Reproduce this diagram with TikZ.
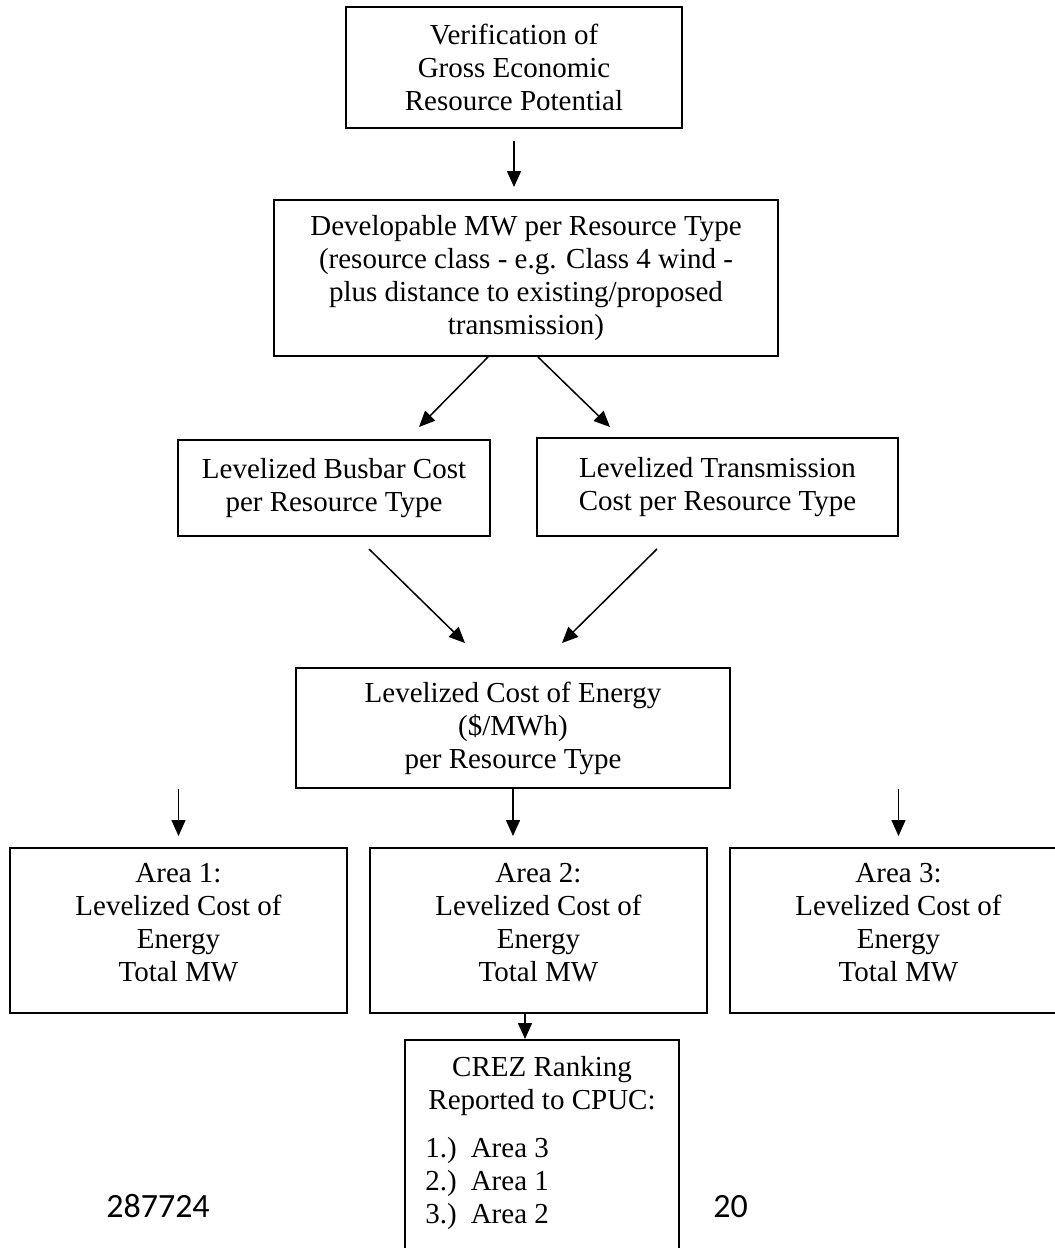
\documentclass[tikz,border=0pt]{standalone}
\usepackage{fontspec}
\newfontfamily\footfont{Carlito}
\newfontfamily\palfont{Liberation Serif}
\usetikzlibrary{arrows.meta,calc}
\begin{document}
\begin{tikzpicture}[x=0.5pt,y=-0.5pt,
  box/.style={draw,line width=1pt,align=center,inner sep=0pt,font=\palfont\fontsize{14.5}{16.5}\selectfont},
  areabox/.style={box,minimum width=168.5pt,minimum height=82.5pt,text depth=8.5pt},
  txt/.style={inner sep=0pt,font=\palfont\fontsize{14.5}{16.5}\selectfont},
  foot/.style={inner sep=0pt,font=\footfont\fontsize{17}{20}\selectfont},
  arr/.style={line width=0.75pt,-{Triangle[length=8pt,width=7pt]}}]
\useasboundingbox (0,0) rectangle (1055,1248);
\node[box,minimum width=168pt,minimum height=60.5pt] (ver) at (514,67.5) {Verification of\\Gross Economic\\Resource Potential};
\node[box,minimum width=252pt,minimum height=78pt] (dev) at (526,278) {Developable MW per Resource Type\\(resource class - e.g. Class 4 wind -\\plus distance to existing/proposed\\transmission)};
\node[box,minimum width=156pt,minimum height=48pt] (bus) at (334,488) {Levelized Busbar Cost\\per Resource Type};
\node[box,minimum width=180.5pt,minimum height=49pt] (trans) at (717.5,487) {Levelized Transmission\\Cost per Resource Type};
\node[box,minimum width=217pt,minimum height=60pt] (lcoe) at (513,728) {Levelized Cost of Energy\\(\$/MWh)\\per Resource Type};
\node[areabox] (a1) at (178.5,930.5) {Area 1:\\Levelized Cost of\\Energy\\Total MW};
\node[areabox] (a2) at (538.5,930.5) {Area 2:\\Levelized Cost of\\Energy\\Total MW};
\node[areabox] (a3) at (898.5,930.5) {Area 3:\\Levelized Cost of\\Energy\\Total MW};
\node[box,anchor=north,minimum width=137pt,minimum height=120pt] (crez) at (542,1039) {};
\node[txt,align=center] (crezt) at (542,1086) {CREZ Ranking\\Reported to CPUC:};
\node[txt,align=left,anchor=west] (crezl) at (425,1184) {1.)\hspace{7pt}Area 3\\2.)\hspace{7pt}Area 1\\3.)\hspace{7pt}Area 2};
\node[foot,anchor=base] (fl) at (158,1217) {287724};
\node[foot,anchor=base west] (fr) at (713,1217) {20};
\draw[arr] ($(ver.south)+(0,12)$) -- ($(ver.south |- dev.north)+(0,-12)$);
\draw[arr] ($(dev.south)+(-38,0)$) -- ($(bus.north)+(85,-12)$);
\draw[arr] ($(dev.south)+(12,0)$) -- ($(trans.north)+(-107.5,-10)$);
\draw[arr] ($(bus.south)+(35,12)$) -- ($(lcoe.north)+(-48,-24)$);
\draw[arr] ($(trans.south)+(-60.5,12)$) -- ($(lcoe.north)+(49,-24)$);
\draw[arr] (a1.north |- lcoe.south) -- ($(a1.north)+(0,-11)$);
\draw[arr] (lcoe.south) -- ($(lcoe.south |- a2.north)+(0,-11)$);
\draw[arr] (a3.north |- lcoe.south) -- ($(a3.north)+(0,-11)$);
\coordinate (c9) at ($(a2.south)+(-13.5,0)$);
\draw[arr] (c9) -- (c9 |- crez.north);
\end{tikzpicture}
\end{document}
